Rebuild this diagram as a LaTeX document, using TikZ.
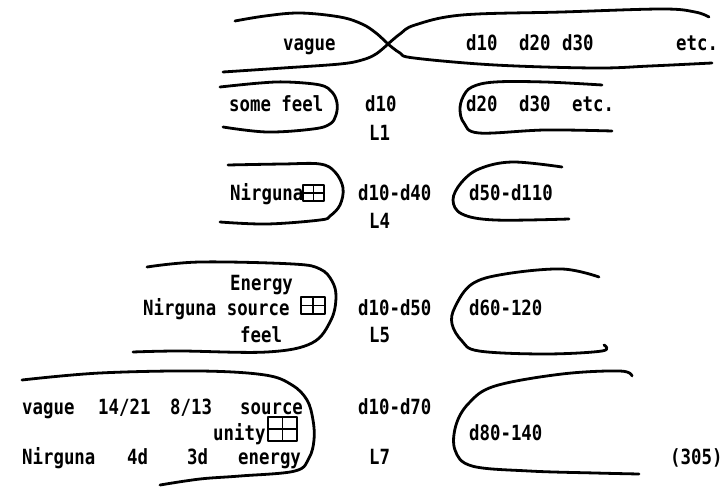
\documentclass[tikz,border=0pt]{standalone}
\usepackage{fontspec}
\newfontfamily\dotfont[FakeStretch=0.83]{DejaVu Sans Mono}
\newcommand\winbox[4]{%
  \draw[icon] (#1,#2) rectangle (#3,#4);
  \draw[icon] ({(#1+#3)/2},#2) -- ({(#1+#3)/2},#4);
  \draw[icon] (#1,{(#2+#4)/2}) -- (#3,{(#2+#4)/2});}
\begin{document}
\begin{tikzpicture}[x=1bp,y=-1bp,
  hand/.style={line width=2.8bp,line cap=round,line join=round},
  icon/.style={line width=1.8bp,line join=round},
  lbl/.style={anchor=base west,inner sep=0pt,font=\dotfont\bfseries\fontsize{21}{22}\selectfont}]
\useasboundingbox (0,0) rectangle (724,487);
% row 1
\draw[hand] plot[smooth,tension=0.6] coordinates {(235,21) (265,16) (300,13) (340,17) (362,24) (376,33) (388,44)};
\draw[hand] plot[smooth,tension=0.6] coordinates {(223,72) (283,68) (340,64) (362,60) (376,54) (388,44)};
\draw[hand] plot[smooth,tension=0.6] coordinates {(388,44) (400,34) (415,25) (462,15) (562,12) (662,9) (695,12) (709,17)};
\draw[hand] plot[smooth,tension=0.6] coordinates {(388,44) (400,53) (414,58) (495,65) (595,68) (650,66) (712,63)};
\node[lbl] (vague1) at (283,51) {vague};
\node[lbl] (d10t) at (466,51) {d10};
\node[lbl] (d20t) at (519,51) {d20};
\node[lbl] (d30t) at (562,51) {d30};
\node[lbl] (etc1) at (676,51) {etc.};
% row 2
\draw[hand] plot[smooth,tension=0.6] coordinates {(220,87) (260,83) (287,82) (320,85) (332,92) (337,103) (336,115) (330,124) (313,129) (267,132) (223,127)};
\draw[hand] plot[smooth,tension=0.6] coordinates {(602,85) (545,82) (495,82) (472,87) (463,97) (460,110) (464,123) (479,133) (545,130) (612,131)};
\node[lbl] (somefeel) at (229,112) {some feel};
\node[lbl] (d10a) at (365,112) {d10};
\node[lbl] (d20a) at (466,112) {d20};
\node[lbl] (d30a) at (519,112) {d30};
\node[lbl] (etc2) at (572,112) {etc.};
\node[lbl] (L1) at (369,141) {L1};
% row 3
\draw[hand] plot[smooth,tension=0.6] coordinates {(228,165) (283,164) (320,164) (335,172) (343,188) (340,205) (330,216) (320,220) (267,224) (220,222)};
\draw[hand] plot[smooth,tension=0.6] coordinates {(562,167) (512,162) (479,169) (461,183) (453,200) (462,214) (495,220) (569,219)};
\node[lbl] (nirg3) at (230,201) {Nirguna};
\winbox{303}{185}{324}{201}
\node[lbl] (d1040) at (358,201) {d10-d40};
\node[lbl] (d50) at (469,201) {d50-d110};
\node[lbl] (L4) at (369,229) {L4};
% row 4
\draw[hand] plot[smooth,tension=0.6] coordinates {(147,267) (200,262) (293,264) (320,269) (332,281) (336,297) (331,320) (312,343) (267,352) (180,351) (133,352)};
\draw[hand] plot[smooth,tension=0.6] coordinates {(599,277) (562,269) (505,274) (472,284) (455,307) (452,324) (462,341) (479,351) (545,354) (602,351) (604,345)};
\node[lbl] (energy) at (230,290) {Energy};
\node[lbl] (nsource) at (143,315) {Nirguna source};
\winbox{301}{297}{325}{314}
\node[lbl] (feel) at (240,342) {feel};
\node[lbl] (d1050) at (358,315) {d10-d50};
\node[lbl] (d60) at (469,315) {d60-120};
\node[lbl] (L5) at (369,342) {L5};
% row 5
\draw[hand] plot[smooth,tension=0.6] coordinates {(22,380) (100,373) (200,371) (265,375) (292,385) (307,400) (313,420) (314,440) (309,458) (295,471) (240,476) (200,479) (160,485)};
\draw[hand] plot[smooth,tension=0.6] coordinates {(632,376) (620,371) (562,374) (495,386) (469,403) (456,425) (455,450) (472,466) (529,471) (595,473) (639,474)};
\node[lbl] (vague5) at (22,414) {vague};
\node[lbl] (f1421) at (98,414) {14/21};
\node[lbl] (f813) at (170,414) {8/13};
\node[lbl] (source5) at (240,414) {source};
\node[lbl] (unity) at (213,440) {unity};
\winbox{268}{417}{297}{441}
\node[lbl] (nirg5) at (22,464) {Nirguna};
\node[lbl] (fourd) at (127,464) {4d};
\node[lbl] (threed) at (187,464) {3d};
\node[lbl] (energy5) at (238,464) {energy};
\node[lbl] (d1070) at (358,414) {d10-d70};
\node[lbl] (d80) at (469,440) {d80-140};
\node[lbl] (L7) at (369,464) {L7};
\node[lbl] (p305) at (670,464) {(305)};
\end{tikzpicture}
\end{document}
